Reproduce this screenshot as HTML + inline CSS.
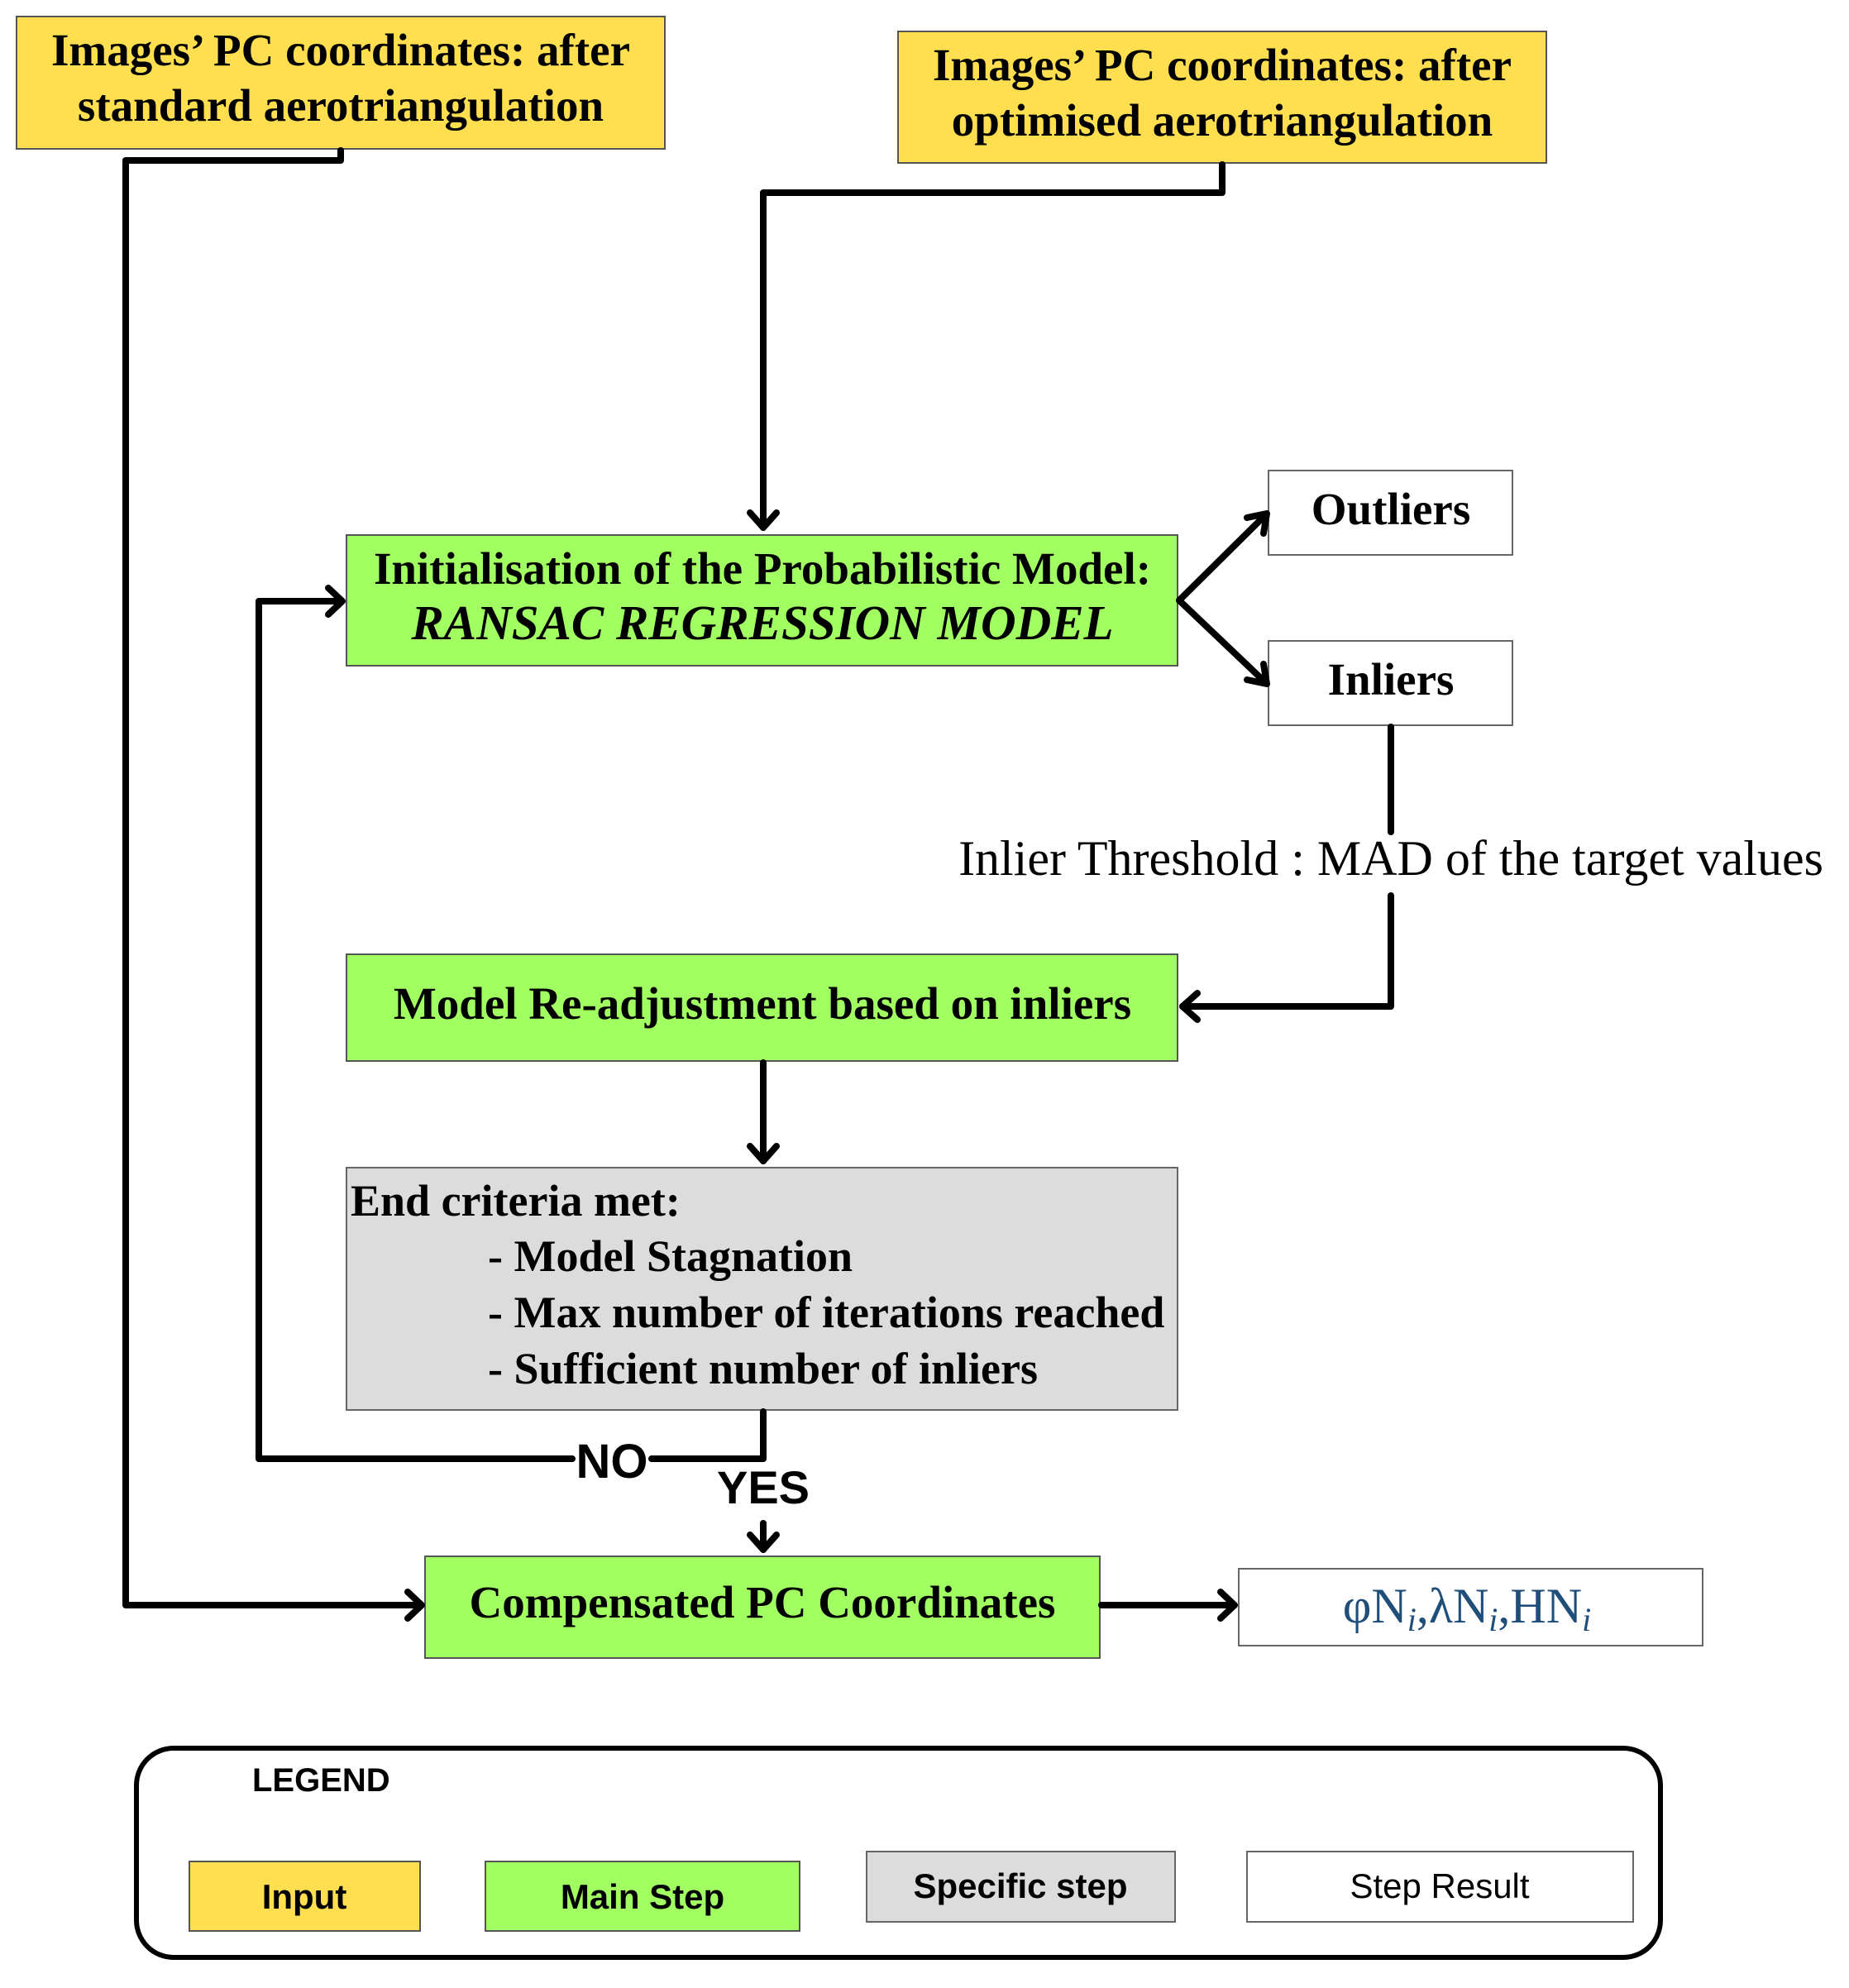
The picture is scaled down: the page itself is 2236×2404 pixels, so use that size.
<!DOCTYPE html>
<html><head><meta charset="utf-8"><style>
html,body{margin:0;padding:0;background:#fff;}
svg{display:block;}
.t{font-family:"Liberation Serif",serif;font-weight:bold;fill:#000;}
.s{font-family:"Liberation Sans",sans-serif;fill:#000;}
</style></head><body>
<svg width="2236" height="2404" viewBox="0 0 2236 2404" xmlns="http://www.w3.org/2000/svg">
<rect x="20" y="20" width="784" height="160" fill="#FFDF4F" stroke="#555" stroke-width="2"/>
<text class="t" font-size="55" x="412" y="79" text-anchor="middle">Images’ PC coordinates: after</text>
<text class="t" font-size="55" x="412" y="146" text-anchor="middle">standard aerotriangulation</text>

<rect x="1086" y="38" width="784" height="159" fill="#FFDF4F" stroke="#555" stroke-width="2"/>
<text class="t" font-size="55" x="1478" y="97" text-anchor="middle">Images’ PC coordinates: after</text>
<text class="t" font-size="55" x="1478" y="164" text-anchor="middle">optimised aerotriangulation</text>

<rect x="419" y="647" width="1005" height="158" fill="#A2FF62" stroke="#555" stroke-width="2"/>
<text class="t" font-size="55" x="922" y="706" text-anchor="middle">Initialisation of the Probabilistic Model:</text>
<text class="t" font-size="59" x="922" y="773" text-anchor="middle" font-style="italic">RANSAC REGRESSION MODEL</text>

<rect x="1534" y="569" width="295" height="102" fill="#fff" stroke="#666" stroke-width="2"/>
<text class="t" font-size="55" x="1682" y="634" text-anchor="middle">Outliers</text>
<rect x="1534" y="775" width="295" height="102" fill="#fff" stroke="#666" stroke-width="2"/>
<text class="t" font-size="55" x="1682" y="840" text-anchor="middle">Inliers</text>

<text font-family="Liberation Serif,serif" font-size="60" x="1682" y="1058" text-anchor="middle">Inlier Threshold : MAD of the target values</text>

<rect x="419" y="1154" width="1005" height="129" fill="#A2FF62" stroke="#555" stroke-width="2"/>
<text class="t" font-size="55" x="922" y="1232" text-anchor="middle">Model Re-adjustment based on inliers</text>

<rect x="419" y="1412" width="1005" height="293" fill="#DCDCDC" stroke="#666" stroke-width="2"/>
<text class="t" font-size="54" x="424" y="1470">End criteria met:</text>
<text class="t" font-size="54" x="590" y="1537">- Model Stagnation</text>
<text class="t" font-size="54" x="590" y="1605">- Max number of iterations reached</text>
<text class="t" font-size="54" x="590" y="1673">- Sufficient number of inliers</text>

<rect x="514" y="1882" width="816" height="123" fill="#A2FF62" stroke="#555" stroke-width="2"/>
<text class="t" font-size="55" x="922" y="1956" text-anchor="middle">Compensated PC Coordinates</text>

<rect x="1498" y="1897" width="561" height="93" fill="#fff" stroke="#666" stroke-width="2"/>
<text font-family="Liberation Serif,serif" font-size="60" x="1774" y="1962" text-anchor="middle" fill="#1F4E79">φN<tspan font-style="italic" font-size="40" dy="10">i</tspan><tspan dy="-10">,λN</tspan><tspan font-style="italic" font-size="40" dy="10">i</tspan><tspan dy="-10">,HN</tspan><tspan font-style="italic" font-size="40" dy="10">i</tspan></text>

<g fill="none" stroke="#000" stroke-width="8" stroke-linejoin="round" stroke-linecap="round">
<path d="M412 182 V194 H152 V1941 H508"/>
<path d="M493 1925 L510 1941 L493 1957"/>
<path d="M1478 199 V233 H923 V638"/>
<path d="M907 620 L923 638 L939 620"/>
<path d="M1426 726 L1530 623"/>
<path d="M1508 626 L1532 621 L1528 645"/>
<path d="M1426 726 L1530 825"/>
<path d="M1508 822 L1532 827 L1528 803"/>
<path d="M1682 879 V1006"/>
<path d="M1682 1083 V1217 H1430"/>
<path d="M1448 1201 L1430 1217 L1448 1233"/>
<path d="M923 1285 V1404"/>
<path d="M907 1386 L923 1404 L939 1386"/>
<path d="M923 1707 V1764 H788"/>
<path d="M692 1764 H313 V727 H413"/>
<path d="M397 711 L414 727 L397 743"/>
<path d="M923 1842 V1874"/>
<path d="M907 1856 L923 1874 L939 1856"/>
<path d="M1332 1941 H1492"/>
<path d="M1476 1925 L1493 1941 L1476 1957"/>
</g>
<text class="s" font-weight="bold" font-size="58" x="740" y="1787" text-anchor="middle">NO</text>
<text class="s" font-weight="bold" font-size="56" x="923" y="1818" text-anchor="middle">YES</text>

<rect x="165" y="2114" width="1843" height="253" rx="45" fill="none" stroke="#000" stroke-width="6"/>
<text class="s" font-weight="bold" font-size="40" x="305" y="2166">LEGEND</text>
<rect x="229" y="2251" width="279" height="84" fill="#FFDF4F" stroke="#555" stroke-width="2"/>
<text class="s" font-weight="bold" font-size="42" x="368" y="2308" text-anchor="middle">Input</text>
<rect x="587" y="2251" width="380" height="84" fill="#A2FF62" stroke="#555" stroke-width="2"/>
<text class="s" font-weight="bold" font-size="42" x="777" y="2308" text-anchor="middle">Main Step</text>
<rect x="1048" y="2239" width="373" height="85" fill="#DCDCDC" stroke="#666" stroke-width="2"/>
<text class="s" font-weight="bold" font-size="42" x="1234" y="2295" text-anchor="middle">Specific step</text>
<rect x="1508" y="2239" width="467" height="85" fill="#fff" stroke="#666" stroke-width="2"/>
<text class="s" font-size="42" x="1741" y="2295" text-anchor="middle">Step Result</text>
</svg>
</body></html>
